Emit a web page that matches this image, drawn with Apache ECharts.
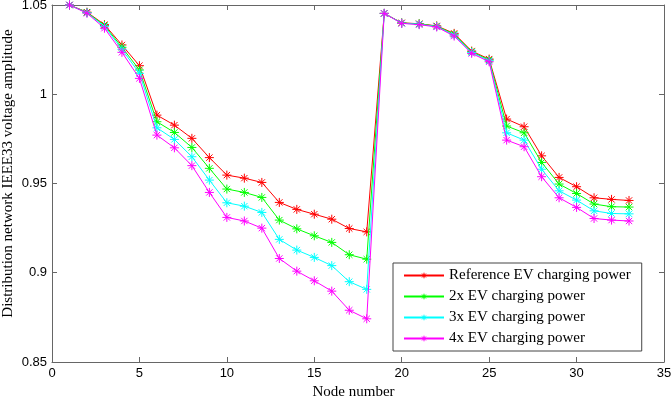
<!DOCTYPE html>
<html>
<head>
<meta charset="utf-8">
<script src="https://cdn.jsdelivr.net/npm/echarts@6/dist/echarts.min.js"></script>
<style>
  html, body { margin: 0; padding: 0; background: #fff; }
  #chart { width: 671px; height: 399px; }
</style>
</head>
<body>
<div id="chart"></div>
<script>
// node numbers 1..33
const nodes = [1,2,3,4,5,6,7,8,9,10,11,12,13,14,15,16,17,18,19,20,21,22,23,24,25,26,27,28,29,30,31,32,33];

// voltage amplitude
const refPower = [1.050,1.046,1.039,1.0276,1.016,0.9883,0.9827,0.9753,0.9645,0.9547,0.953,0.9506,0.9394,0.9355,0.9328,0.930,0.9248,0.9229,
                  1.0453,1.0400,1.0395,1.0383,1.0341,1.0242,1.0197,0.9861,0.9818,0.9655,0.9534,0.9482,0.942,0.9411,0.9405];
const power2x = [1.050,1.0458,1.0385,1.0263,1.0136,0.9846,0.9786,0.9702,0.9585,0.9469,0.945,0.9422,0.9295,0.9246,0.9207,0.917,0.9101,0.9076,
                 1.0453,1.0399,1.0394,1.0381,1.0336,1.0238,1.0192,0.9822,0.9784,0.9618,0.9497,0.9444,0.9385,0.937,0.9368];
const power3x = [1.050,1.0456,1.038,1.0252,1.0117,0.9812,0.9747,0.965,0.9519,0.9392,0.9373,0.9338,0.9187,0.9127,0.9086,0.904,0.895,0.8907,
                 1.0453,1.0398,1.0392,1.0379,1.0331,1.0234,1.0187,0.9784,0.9743,0.958,0.9459,0.9407,0.9347,0.9332,0.933];
const power4x = [1.050,1.0454,1.037,1.0235,1.0089,0.9771,0.970,0.960,0.945,0.931,0.929,0.925,0.908,0.9009,0.8955,0.8897,0.879,0.8742,
                 1.0453,1.0397,1.039,1.0377,1.0326,1.0229,1.0182,0.9743,0.9706,0.9538,0.942,0.9366,0.9304,0.9295,0.929];

const seriesNames = ['Reference EV charging power','2x EV charging power','3x EV charging power','4x EV charging power'];
const seriesColors = ['#ff0000','#00ff00','#00ffff','#ff00ff'];
const seriesData = [refPower, power2x, power3x, power4x];

const xTicks = [0,5,10,15,20,25,30,35];
const yTicks = [0.85,0.9,0.95,1,1.05];

// 星号标记 (matlab 的 '*')
const starPath = 'path://M0,-5L0,5M-5,0L5,0M-3.5,-3.5L3.5,3.5M-3.5,3.5L3.5,-3.5';
const serif = 'Liberation Serif';
const sans = 'Liberation Sans';
const axisColor = '#666';

const chart = echarts.init(document.getElementById('chart'));

const series = seriesData.map((vals, i) => ({
    name: seriesNames[i],
    type: 'line',
    data: vals.map((v, k) => [nodes[k], v]),
    symbol: starPath,
    symbolSize: 9,
    showAllSymbol: true,
    lineStyle: { color: seriesColors[i], width: 1 },
    itemStyle: { color: 'none', borderColor: seriesColors[i], borderWidth: 1 },
    emphasis: { disabled: true },
    animation: false,
    z: 2 + i
}));

const option = {
    animation: false,
    grid: { left: 52, right: 7, top: 5, bottom: 37, containLabel: false, outerBoundsMode: 'none' },
    legend: {
        left: 393,
        top: 263,
        orient: 'vertical',
        backgroundColor: '#fff',
        borderColor: '#444',
        borderWidth: 1,
        padding: [5, 11, 5, 10],
        itemGap: 6,
        itemWidth: 40,
        itemHeight: 7,
        itemStyle: { borderWidth: 1 },
        textStyle: { fontFamily: serif, fontSize: 15, color: '#000' },
        data: seriesNames.map((n, i) => ({ name: n, itemStyle: { color: 'none', borderColor: seriesColors[i] } }))
    },
    xAxis: [{
        type: 'value',
        min: 0, max: 35, interval: 5,
        name: 'Node number',
        nameLocation: 'middle',
        nameGap: 23,
        nameMoveOverlap: false,
        nameTextStyle: { fontFamily: serif, fontSize: 15, color: '#000', padding: [0, 9, 0, 0] },
        axisLine: { onZero: false, lineStyle: { color: axisColor } },
        axisTick: { inside: true, length: 5, lineStyle: { color: axisColor } },
        axisLabel: { fontFamily: sans, fontSize: 13, color: '#000', margin: 5 },
        splitLine: { show: false }
    }, {
        type: 'value', position: 'top',
        min: 0, max: 35, interval: 5,
        axisLine: { onZero: false, lineStyle: { color: axisColor } },
        axisTick: { inside: true, length: 5, lineStyle: { color: axisColor } },
        axisLabel: { show: false },
        splitLine: { show: false }
    }],
    yAxis: [{
        type: 'value',
        min: 0.85, max: 1.05, interval: 0.05,
        name: 'Distribution network IEEE33 voltage amplitude',
        nameLocation: 'middle',
        nameGap: 36,
        nameMoveOverlap: false,
        nameTextStyle: { fontFamily: serif, fontSize: 15, color: '#000', padding: [0, 0, 0, 20] },
        axisLine: { show: true, onZero: false, lineStyle: { color: axisColor } },
        axisTick: { show: true, inside: true, length: 5, lineStyle: { color: axisColor } },
        axisLabel: {
            fontFamily: sans, fontSize: 13, color: '#000', margin: 5,
            formatter: v => String(+v.toFixed(2))
        },
        splitLine: { show: false }
    }, {
        type: 'value', position: 'right',
        min: 0.85, max: 1.05, interval: 0.05,
        axisLine: { show: true, onZero: false, lineStyle: { color: axisColor } },
        axisTick: { show: true, inside: true, length: 5, lineStyle: { color: axisColor } },
        axisLabel: { show: false },
        splitLine: { show: false }
    }],
    series: series
};

chart.setOption(option);
</script>
</body>
</html>
